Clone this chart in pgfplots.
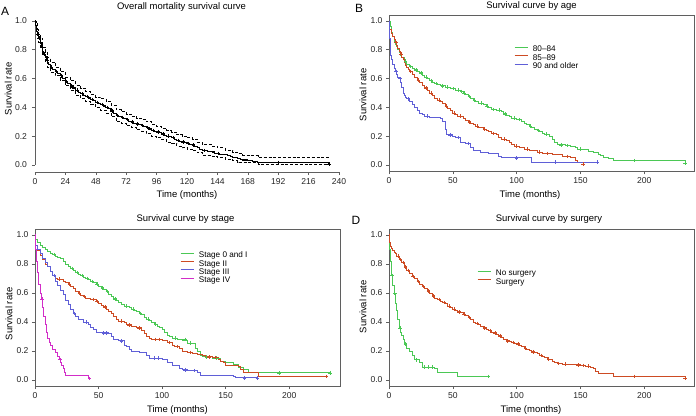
\documentclass[border=0pt]{standalone}
\usepackage{pgfplots}
\pgfplotsset{compat=1.18}
\usepackage{fontspec}
\setmainfont{Liberation Sans}
\definecolor{kmgreen}{RGB}{75,200,85}
\definecolor{kmred}{RGB}{205,75,35}
\definecolor{kmblue}{RGB}{95,95,215}
\definecolor{kmmag}{RGB}{210,45,200}
\definecolor{axgray}{RGB}{95,95,95}
\pgfplotsset{
  km/.style={const plot mark left, no marks, line width=0.9bp},
  cens/.style={only marks, mark=+, mark size=1.8bp, mark options={line width=0.5bp}, forget plot},
  common/.style={scale only axis, tick align=outside, major tick length=3bp,
    axis line style={draw=axgray, line width=0.6bp}, tick style={draw=axgray, line width=0.6bp},
    ticklabel style={font=\fontsize{8.6}{10}\selectfont, text=black!85},
    /pgf/number format/assume math mode=true,
    yticklabel style={/pgf/number format/fixed, /pgf/number format/fixed zerofill, /pgf/number format/precision=1},
    ytick={0,0.2,0.4,0.6,0.8,1.0}},
  boxed/.style={common, tick pos=left, xtick={0,50,100,150,200}},
  leg/.style={legend cell align=left,
    legend style={draw=none, fill=none, inner sep=0pt, font=\fontsize{8.2}{9}\selectfont,
      nodes={inner sep=0.3bp, text height=5.6bp, text depth=1.6bp}, row sep=0.5bp, column sep=4bp},
    legend image code/.code={\draw[##1] (0bp,2.6bp) -- (13.5bp,2.6bp);}}
}
\begin{document}
\begin{tikzpicture}
\path[use as bounding box] (0bp,0bp) rectangle (696bp,416bp);
\def\ttl{\fontsize{9.5}{11}\selectfont}
% ---------------- Panel A
\begin{axis}[common, at={(35bp,243.8bp)}, anchor=south west, width=304bp, height=151.2bp,
  xmin=0, xmax=240, ymin=-0.05, ymax=1.0,
  axis x line*=bottom, axis y line*=left, y axis line style={shorten <=7.2bp},
  xtick={0,24,...,240}, yticklabel style={xshift=-1.5bp}]
\addplot[km, black, dash pattern=on 3bp off 1.8bp, line width=0.75bp] coordinates {(0,1.0)(1,0.98)(2,0.94)(3,0.91)(4,0.88)(6,0.82)(8,0.785)(10,0.745)(12,0.715)(16,0.68)(20,0.65)(24,0.61)(28,0.585)(32,0.555)(36,0.53)(40,0.51)(44,0.49)(48,0.47)(52,0.46)(56,0.44)(60,0.415)(64,0.385)(68,0.37)(72,0.355)(76,0.34)(80,0.325)(84,0.315)(88,0.30)(92,0.28)(96,0.27)(100,0.255)(104,0.24)(108,0.23)(112,0.21)(116,0.20)(120,0.19)(124,0.18)(128,0.16)(132,0.14)(140,0.13)(144,0.12)(150,0.105)(156,0.09)(160,0.08)(164,0.07)(170,0.065)(176,0.055)(232,0.055)};
\addplot[km, black, dash pattern=on 3bp off 1.8bp, line width=0.75bp] coordinates {(0,1.0)(1,0.92)(2,0.88)(3,0.85)(4,0.82)(6,0.76)(8,0.715)(10,0.675)(12,0.645)(16,0.62)(20,0.59)(24,0.55)(28,0.515)(32,0.485)(36,0.46)(40,0.44)(44,0.42)(48,0.40)(52,0.38)(56,0.36)(60,0.335)(64,0.305)(68,0.29)(72,0.275)(76,0.26)(80,0.245)(84,0.235)(88,0.22)(92,0.20)(96,0.19)(100,0.175)(104,0.16)(108,0.15)(112,0.13)(116,0.12)(120,0.11)(124,0.10)(128,0.085)(132,0.065)(140,0.06)(144,0.05)(150,0.04)(156,0.03)(160,0.02)(164,0.015)(176,0.005)(232,0.005)};
\addplot[km, black, line width=1.1bp] coordinates {(0,1.0)(0.5,0.97)(1,0.95)(1.5,0.93)(2,0.91)(3,0.88)(4,0.85)(5,0.82)(6,0.79)(7,0.77)(8,0.75)(9,0.73)(10,0.71)(11,0.70)(12,0.68)(14,0.665)(16,0.65)(18,0.635)(20,0.62)(22,0.60)(24,0.58)(26,0.565)(28,0.55)(30,0.535)(32,0.52)(34,0.505)(36,0.495)(38,0.485)(40,0.475)(42,0.465)(44,0.455)(46,0.445)(48,0.435)(50,0.43)(52,0.42)(54,0.41)(56,0.40)(58,0.39)(60,0.375)(62,0.36)(64,0.345)(66,0.335)(68,0.33)(70,0.32)(72,0.315)(74,0.305)(76,0.30)(78,0.29)(80,0.285)(82,0.28)(84,0.275)(86,0.265)(88,0.26)(90,0.25)(92,0.24)(94,0.235)(96,0.23)(98,0.225)(100,0.215)(102,0.205)(104,0.20)(106,0.195)(108,0.19)(110,0.18)(112,0.17)(114,0.165)(116,0.16)(118,0.155)(120,0.15)(122,0.145)(124,0.14)(126,0.13)(128,0.12)(130,0.11)(132,0.10)(136,0.095)(140,0.09)(142,0.08)(146,0.075)(150,0.07)(152,0.065)(154,0.06)(156,0.055)(158,0.05)(160,0.045)(162,0.04)(164,0.035)(168,0.03)(172,0.025)(176,0.017)(230,0.017)(232,0.005)};
\addplot[cens, black] coordinates {(2.5,0.91)(3.5,0.88)(4.5,0.85)(5.5,0.82)(7.5,0.77)(9.5,0.73)(13,0.68)(17,0.65)(21,0.62)(25,0.58)(29,0.55)(33,0.52)(37,0.495)(41,0.475)(45,0.455)(49,0.435)(53,0.42)(57,0.40)(61,0.375)(65,0.345)(69,0.33)(73,0.315)(77,0.30)(81,0.285)(85,0.275)(89,0.26)(93,0.24)(97,0.23)(101,0.215)(105,0.20)(109,0.19)(113,0.17)(117,0.16)(121,0.15)(125,0.14)(134,0.10)(145,0.08)(192,0.017)(232,0.005)};
\end{axis}
% ---------------- Panel B
\begin{axis}[boxed, leg, at={(389bp,244.5bp)}, anchor=south west, width=305bp, height=156.3bp,
  xmin=0, xmax=239, ymin=-0.045, ymax=1.04,
  legend style={at={(0.41,0.8036)}, anchor=north west}]
\addplot[km, kmgreen] coordinates {(0,1.0)(1,0.96)(2,0.92)(3,0.89)(4,0.86)(5,0.84)(6,0.82)(7,0.80)(8,0.78)(9,0.76)(10,0.745)(12,0.72)(14,0.70)(16,0.685)(18,0.67)(20,0.66)(22,0.65)(24,0.64)(26,0.625)(28,0.61)(30,0.60)(32,0.585)(34,0.575)(36,0.565)(38,0.56)(40,0.55)(44,0.54)(48,0.53)(52,0.52)(56,0.51)(58,0.50)(60,0.49)(62,0.475)(64,0.46)(66,0.45)(68,0.44)(70,0.43)(74,0.42)(76,0.41)(78,0.40)(80,0.385)(84,0.38)(88,0.37)(90,0.355)(92,0.345)(94,0.335)(96,0.325)(100,0.315)(104,0.305)(106,0.29)(108,0.28)(110,0.27)(112,0.26)(114,0.25)(116,0.24)(118,0.23)(120,0.22)(122,0.215)(124,0.21)(126,0.20)(128,0.18)(130,0.16)(132,0.145)(134,0.14)(138,0.135)(142,0.13)(146,0.12)(148,0.11)(152,0.105)(156,0.095)(160,0.085)(164,0.075)(166,0.065)(168,0.055)(172,0.045)(176,0.03)(230,0.03)(232,0.012)};
\addlegendentry{80–84}
\addplot[km, kmred] coordinates {(0,1.0)(0.3,0.94)(2,0.91)(3,0.89)(4,0.87)(5,0.85)(6,0.83)(7,0.81)(8,0.79)(9,0.77)(10,0.75)(11,0.73)(12,0.71)(13,0.69)(14,0.675)(15,0.66)(16,0.65)(18,0.63)(20,0.61)(22,0.59)(24,0.57)(26,0.55)(28,0.535)(30,0.52)(32,0.50)(34,0.48)(36,0.465)(38,0.45)(40,0.44)(42,0.43)(44,0.41)(46,0.395)(48,0.38)(50,0.36)(52,0.35)(54,0.34)(58,0.325)(60,0.31)(62,0.30)(64,0.29)(66,0.28)(68,0.27)(70,0.26)(74,0.25)(76,0.24)(78,0.23)(80,0.22)(84,0.21)(86,0.19)(88,0.18)(92,0.17)(94,0.155)(96,0.14)(98,0.13)(102,0.12)(106,0.11)(110,0.10)(116,0.09)(120,0.08)(128,0.07)(136,0.06)(142,0.05)(146,0.03)(148,0.02)(152,0.005)};
\addlegendentry{85–89}
\addplot[km, kmblue] coordinates {(0,1.0)(0.5,0.88)(1,0.80)(1.5,0.76)(2,0.73)(3,0.70)(4,0.67)(5,0.65)(6,0.63)(7,0.61)(8,0.60)(9,0.57)(10,0.54)(11,0.50)(12,0.48)(13,0.47)(14,0.46)(16,0.44)(18,0.42)(20,0.40)(22,0.38)(24,0.36)(26,0.35)(28,0.34)(32,0.33)(40,0.32)(42,0.30)(44,0.25)(45,0.21)(50,0.20)(52,0.19)(56,0.16)(60,0.15)(64,0.12)(66,0.10)(72,0.09)(78,0.08)(86,0.06)(88,0.05)(112,0.02)(163,0.02)};
\addlegendentry{90 and older}
\addplot[cens, kmgreen] coordinates {(13,0.72)(17,0.685)(21,0.66)(25,0.64)(29,0.61)(33,0.585)(37,0.565)(42,0.55)(46,0.54)(50,0.53)(54,0.52)(57,0.51)(59,0.50)(63,0.475)(67,0.45)(72,0.43)(77,0.41)(82,0.385)(86,0.38)(91,0.355)(98,0.325)(102,0.315)(111,0.27)(117,0.24)(123,0.215)(135,0.14)(140,0.135)(150,0.11)(192,0.03)(232,0.012)};
\addplot[cens, kmred] coordinates {(5.5,0.85)(9.5,0.77)(17,0.65)(23,0.59)(29,0.535)(33,0.50)(39,0.45)(45,0.41)(51,0.36)(56,0.34)(63,0.30)(69,0.27)(75,0.25)(82,0.22)(90,0.18)(100,0.13)(108,0.11)(118,0.09)(124,0.08)(140,0.06)(152,0.005)};
\addplot[cens, kmblue] coordinates {(5.5,0.65)(8.5,0.60)(15,0.46)(30,0.34)(48,0.21)(54,0.19)(62,0.15)(100,0.05)(130,0.02)(163,0.02)};
\end{axis}
% ---------------- Panel C
\begin{axis}[boxed, leg, at={(35bp,30bp)}, anchor=south west, width=305bp, height=157bp,
  xmin=0, xmax=240, ymin=-0.041, ymax=1.041,
  legend style={at={(0.4754,0.8545)}, anchor=north west}]
\addplot[km, kmgreen] coordinates {(0,1.0)(0.5,0.97)(2,0.95)(4,0.93)(6,0.915)(8,0.90)(10,0.885)(12,0.875)(14,0.865)(16,0.855)(18,0.845)(20,0.835)(22,0.82)(24,0.80)(26,0.785)(28,0.77)(30,0.755)(32,0.74)(34,0.73)(36,0.72)(38,0.71)(40,0.70)(42,0.69)(44,0.68)(46,0.67)(48,0.66)(50,0.645)(52,0.635)(54,0.625)(56,0.61)(58,0.59)(60,0.575)(62,0.56)(64,0.55)(66,0.535)(68,0.52)(70,0.51)(74,0.50)(76,0.49)(78,0.48)(80,0.47)(82,0.46)(84,0.45)(86,0.43)(88,0.42)(90,0.41)(92,0.40)(94,0.385)(96,0.37)(98,0.36)(100,0.35)(102,0.33)(104,0.31)(106,0.30)(108,0.29)(112,0.28)(116,0.27)(120,0.255)(124,0.25)(126,0.22)(128,0.20)(130,0.17)(132,0.16)(140,0.15)(146,0.13)(150,0.12)(156,0.11)(160,0.09)(164,0.075)(168,0.05)(232,0.05)};
\addlegendentry{Stage 0 and I}
\addplot[km, kmred] coordinates {(0,1.0)(0.5,0.93)(2,0.89)(4,0.86)(6,0.83)(8,0.80)(10,0.78)(12,0.75)(14,0.72)(16,0.70)(18,0.695)(20,0.69)(22,0.68)(24,0.67)(26,0.66)(28,0.645)(30,0.63)(32,0.61)(34,0.60)(36,0.585)(38,0.575)(40,0.565)(44,0.555)(48,0.54)(50,0.53)(52,0.515)(54,0.505)(56,0.49)(58,0.47)(60,0.46)(62,0.44)(64,0.42)(66,0.405)(70,0.395)(72,0.38)(76,0.37)(80,0.36)(84,0.34)(86,0.32)(88,0.30)(90,0.285)(92,0.28)(100,0.275)(104,0.26)(108,0.24)(110,0.23)(114,0.22)(116,0.20)(120,0.19)(124,0.18)(128,0.175)(132,0.17)(134,0.16)(140,0.155)(144,0.14)(146,0.13)(148,0.12)(150,0.10)(160,0.095)(162,0.07)(164,0.05)(176,0.025)(229,0.025)};
\addlegendentry{Stage II}
\addplot[km, kmblue] coordinates {(0,1.0)(0.5,0.93)(2,0.90)(4,0.87)(6,0.84)(8,0.81)(10,0.78)(12,0.75)(14,0.72)(16,0.68)(18,0.65)(20,0.62)(22,0.59)(24,0.55)(26,0.52)(28,0.49)(30,0.46)(32,0.44)(34,0.42)(38,0.40)(42,0.38)(44,0.36)(46,0.35)(48,0.33)(50,0.325)(58,0.32)(60,0.30)(62,0.28)(66,0.27)(70,0.24)(72,0.23)(74,0.21)(76,0.20)(82,0.19)(88,0.17)(90,0.15)(100,0.14)(104,0.12)(108,0.10)(114,0.08)(116,0.07)(120,0.065)(128,0.05)(130,0.035)(156,0.025)(158,0.015)(175,0.015)};
\addlegendentry{Stage III}
\addplot[km, kmmag] coordinates {(0,1.0)(0.3,0.90)(1,0.82)(2,0.74)(3,0.66)(4,0.60)(5,0.56)(6,0.50)(7,0.44)(8,0.38)(9,0.33)(10,0.29)(11,0.26)(12,0.24)(14,0.21)(16,0.19)(18,0.16)(19,0.14)(20,0.12)(21,0.10)(22,0.08)(23,0.05)(24,0.03)(42,0.01)(43,0.01)};
\addlegendentry{Stage IV}
\addplot[cens, kmgreen] coordinates {(15,0.865)(29,0.77)(33,0.74)(37,0.72)(41,0.70)(45,0.68)(49,0.66)(53,0.635)(57,0.61)(63,0.56)(72,0.51)(77,0.49)(83,0.46)(89,0.42)(95,0.385)(110,0.29)(118,0.28)(122,0.255)(135,0.16)(143,0.15)(192,0.05)(232,0.05)};
\addplot[cens, kmred] coordinates {(15,0.72)(19,0.695)(27,0.66)(35,0.60)(39,0.575)(46,0.555)(49,0.54)(55,0.505)(68,0.405)(74,0.38)(82,0.36)(95,0.28)(98,0.28)(106,0.26)(112,0.23)(122,0.19)(137,0.16)(142,0.155)(229,0.025)};
\addplot[cens, kmblue] coordinates {(15,0.72)(31,0.46)(40,0.40)(54,0.325)(56,0.325)(68,0.27)(94,0.15)(97,0.15)(118,0.07)(125,0.065)(165,0.015)(175,0.015)};
\addplot[cens, kmmag] coordinates {(5.5,0.56)(19.5,0.14)(43,0.01)};
\end{axis}
% ---------------- Panel D
\begin{axis}[boxed, leg, at={(389bp,30bp)}, anchor=south west, width=305bp, height=157bp,
  xmin=0, xmax=239, ymin=-0.041, ymax=1.041,
  legend style={at={(0.2885,0.7398)}, anchor=north west}]
\addplot[km, kmgreen] coordinates {(0,1.0)(0.3,0.90)(1,0.82)(2,0.72)(3,0.65)(4,0.60)(5,0.53)(6,0.48)(7,0.42)(8,0.36)(9,0.33)(10,0.31)(11,0.28)(12,0.25)(14,0.22)(16,0.20)(18,0.17)(20,0.14)(24,0.12)(26,0.09)(36,0.08)(38,0.05)(54,0.025)(78,0.025)};
\addlegendentry{No surgery}
\addplot[km, kmred] coordinates {(0,1.0)(0.5,0.95)(1,0.92)(2,0.905)(3,0.895)(4,0.88)(5,0.87)(6,0.855)(8,0.83)(10,0.81)(12,0.78)(14,0.755)(16,0.735)(18,0.715)(20,0.70)(22,0.68)(24,0.66)(26,0.645)(28,0.63)(30,0.615)(32,0.60)(34,0.58)(36,0.565)(38,0.555)(40,0.545)(42,0.535)(44,0.525)(46,0.51)(48,0.50)(50,0.49)(52,0.48)(54,0.47)(56,0.465)(58,0.455)(60,0.445)(62,0.43)(64,0.415)(66,0.40)(68,0.39)(70,0.38)(72,0.37)(74,0.36)(76,0.35)(78,0.34)(80,0.33)(82,0.325)(84,0.315)(86,0.305)(88,0.295)(90,0.28)(92,0.27)(94,0.265)(96,0.26)(98,0.255)(100,0.25)(102,0.24)(104,0.23)(106,0.22)(108,0.21)(110,0.205)(112,0.195)(114,0.19)(116,0.18)(118,0.17)(120,0.165)(122,0.155)(124,0.145)(126,0.14)(128,0.13)(130,0.12)(132,0.115)(136,0.11)(144,0.105)(150,0.10)(154,0.095)(158,0.085)(160,0.08)(162,0.06)(164,0.045)(176,0.025)(230,0.025)(232,0.012)};
\addlegendentry{Surgery}
\addplot[cens, kmgreen] coordinates {(2.5,0.72)(4.5,0.60)(8.5,0.36)(13,0.25)(21,0.14)(28,0.09)(31,0.09)(34,0.09)(78,0.025)};
\addplot[cens, kmred] coordinates {(7,0.855)(9,0.83)(11,0.81)(13,0.78)(15,0.755)(19,0.715)(23,0.68)(27,0.645)(31,0.615)(35,0.58)(39,0.555)(43,0.535)(47,0.51)(51,0.49)(55,0.47)(59,0.455)(63,0.43)(69,0.39)(75,0.36)(79,0.34)(83,0.325)(87,0.305)(93,0.27)(97,0.26)(101,0.25)(107,0.22)(113,0.195)(119,0.17)(125,0.145)(133,0.115)(138,0.11)(148,0.105)(152,0.10)(156,0.095)(192,0.025)(232,0.012)};
\end{axis}
% ---------------- Titles, labels, panel letters
\node[font=\ttl] at (181.5bp,408.5bp) {Overall mortality survival curve};
\node[font=\ttl] at (531.5bp,410bp) {Survival curve by age};
\node[font=\ttl] at (185.5bp,196.5bp) {Survival curve by stage};
\node[font=\ttl] at (549bp,196.5bp) {Survival curve by surgery};
\node[font=\ttl] at (187bp,221.3bp) {Time (months)};
\node[font=\ttl] at (530bp,221bp) {Time (months)};
\node[font=\ttl] at (177.5bp,6.3bp) {Time (months)};
\node[font=\ttl] at (531bp,6.3bp) {Time (months)};
\node[font=\ttl, rotate=90] at (8.3bp,327bp) {Survival rate};
\node[font=\ttl, rotate=90] at (363bp,321bp) {Survival rate};
\node[font=\ttl, rotate=90] at (9bp,102bp) {Survival rate};
\node[font=\ttl, rotate=90] at (363bp,109bp) {Survival rate};
\node[font=\fontsize{12}{14}\selectfont] at (5bp,405bp) {A};
\node[font=\fontsize{12}{14}\selectfont] at (359bp,407.5bp) {B};
\node[font=\fontsize{12}{14}\selectfont] at (356bp,195.5bp) {D};
\end{tikzpicture}
\end{document}
